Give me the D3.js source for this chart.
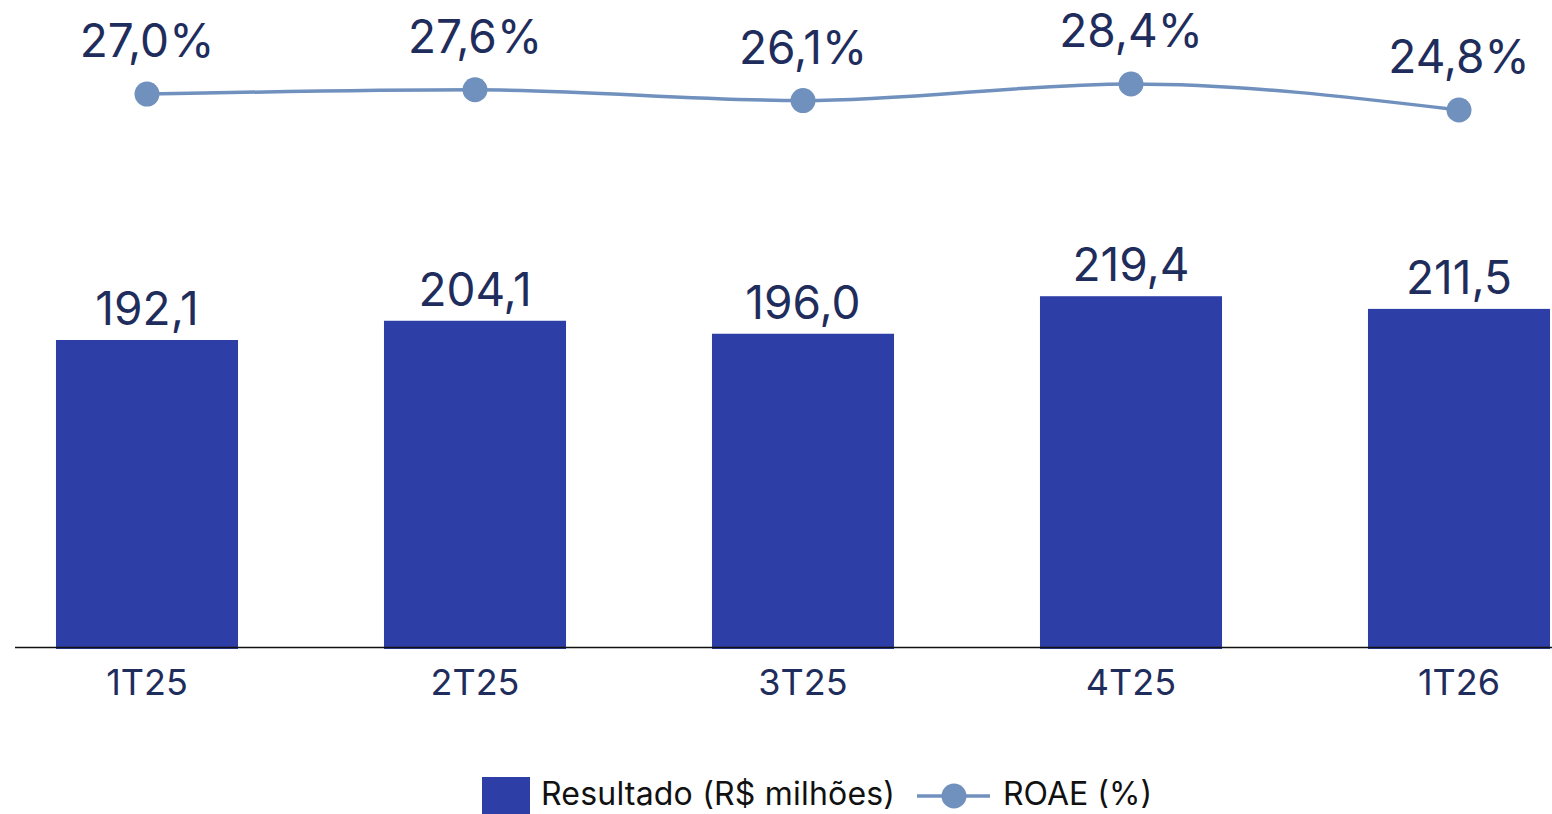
<!DOCTYPE html>
<html>
<head>
<meta charset="utf-8">
<script src="https://cdn.jsdelivr.net/npm/d3@7"></script>
<style>
  body { margin: 0; background: #fff; }
  svg text { font-family: Inter, "DejaVu Sans", sans-serif; }
</style>
</head>
<body>
<div id="svg"></div>
<script>
var periods = ["1T25", "2T25", "3T25", "4T25", "1T26"];
var resultado = [192.1, 204.1, 196.0, 219.4, 211.5];
var roae = [27.0, 27.6, 26.1, 28.4, 24.8];

var width = 1552,
    height = 814,
    baseY = 648;

var barColor = "#2d3ea6",
    lineColor = "#7090bd",
    textColor = "#1f2d5c";

var svg = d3.select("#svg").append("svg")
    .attr("width", width)
    .attr("height", height);

var x = d3.scaleBand()
    .domain(periods)
    .range([-17, 1623])
    .paddingInner(0.445)
    .paddingOuter(0.2225);

// bars start from zero
var y = d3.scaleLinear()
    .domain([0, 192.1])
    .range([baseY, 340]);

// roae line sits in the band on top
var y2 = d3.scaleLinear()
    .domain([24.8, 28.4])
    .range([110, 84]);

svg.append("g")
    .selectAll("rect")
    .data(resultado)
    .enter().append("rect")
    .attr("x", function (d, i) { return x(periods[i]); })
    .attr("y", function (d) { return y(d); })
    .attr("width", x.bandwidth())
    .attr("height", function (d) { return baseY + 1 - y(d); })
    .attr("fill", barColor);

svg.append("line")
    .attr("x1", 15)
    .attr("x2", width)
    .attr("y1", baseY - 0.5)
    .attr("y2", baseY - 0.5)
    .attr("stroke", "#111")
    .attr("stroke-width", 1.3);

svg.append("g")
    .selectAll("text")
    .data(resultado)
    .enter().append("text")
    .attr("x", function (d, i) { return x(periods[i]) + x.bandwidth() / 2; })
    .attr("y", function (d) { return y(d) - 15; })
    .attr("text-anchor", "middle")
    .attr("fill", textColor)
    .style("font-size", "46px")
    .text(function (d) { return d.toFixed(1).replace(".", ","); });

// category labels
svg.append("g")
    .selectAll("text")
    .data(periods)
    .enter().append("text")
    .attr("x", function (d) { return x(d) + x.bandwidth() / 2; })
    .attr("y", baseY + 47)
    .attr("text-anchor", "middle")
    .attr("fill", textColor)
    .style("font-size", "36px")
    .text(function (d) { return d; });

var line = d3.line()
    .x(function (d, i) { return x(periods[i]) + x.bandwidth() / 2; })
    .y(function (d) { return y2(d); })
    .curve(d3.curveMonotoneX);

svg.append("path")
    .datum(roae)
    .attr("d", line)
    .attr("fill", "none")
    .attr("stroke", lineColor)
    .attr("stroke-width", 3.5);

svg.append("g")
    .selectAll("circle")
    .data(roae)
    .enter().append("circle")
    .attr("cx", function (d, i) { return x(periods[i]) + x.bandwidth() / 2; })
    .attr("cy", function (d) { return y2(d); })
    .attr("r", 12.5)
    .attr("fill", lineColor);

svg.append("g")
    .selectAll("text")
    .data(roae)
    .enter().append("text")
    .attr("x", function (d, i) { return x(periods[i]) + x.bandwidth() / 2; })
    .attr("y", function (d) { return y2(d) - 37; })
    .attr("text-anchor", "middle")
    .attr("fill", textColor)
    .style("font-size", "46px")
    .text(function (d) { return d.toFixed(1).replace(".", ",") + "%"; });

// legend
var lg = svg.append("g");
lg.append("rect")
    .attr("x", 482)
    .attr("y", 777)
    .attr("width", 48)
    .attr("height", 37)
    .attr("fill", barColor);
lg.append("text")
    .attr("x", 541)
    .attr("y", 805)
    .attr("fill", "#111")
    .style("font-size", "32px")
    .style("letter-spacing", "0.2px")
    .text("Resultado (R$ milhões)");
lg.append("line")
    .attr("x1", 917)
    .attr("x2", 990)
    .attr("y1", 796)
    .attr("y2", 796)
    .attr("stroke", lineColor)
    .attr("stroke-width", 3.5);
lg.append("circle")
    .attr("cx", 954)
    .attr("cy", 796)
    .attr("r", 12.5)
    .attr("fill", lineColor);
lg.append("text")
    .attr("x", 1003)
    .attr("y", 805)
    .attr("fill", "#111")
    .style("font-size", "32px")
    .text("ROAE (%)");
</script>
</body>
</html>
